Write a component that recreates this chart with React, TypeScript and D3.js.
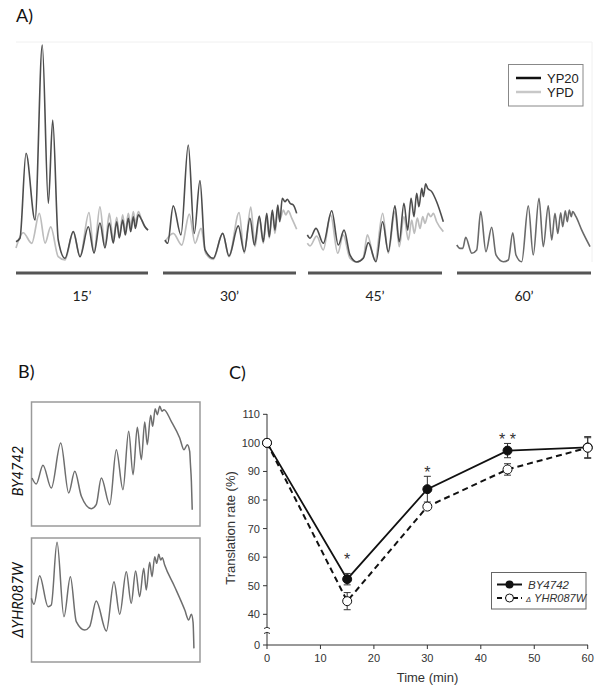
import React from 'react';
import * as d3 from 'd3';

type Pt = [number, number];

// ---------- Panel A: polysome profiles, [gradient position %, A254 a.u.] ----------
const a15YP20: Pt[] = [
  [0, 9.2], [3.0, 10.8], [7.6, 49.4], [14.4, 19.1], [19.9, 98.6], [24.5, 26.7], [27.8, 64.5],
  [32.0, 10.0], [37.1, 1.7], [43.4, 13.8], [48.5, 2.4], [54.8, 16.0], [59.1, 4.1], [63.6, 17.7],
  [67.4, 6.4], [70.7, 17.7], [73.7, 8.6], [76.3, 18.3], [78.3, 10.9], [80.8, 19.1], [82.8, 12.3],
  [85.1, 19.9], [86.9, 13.8], [88.9, 20.6], [90.4, 15.3], [92.7, 21.4], [95.2, 19.1], [97.7, 16.0],
  [100, 14.5],
];
const a15YPD: Pt[] = [
  [0, 6.4], [5.5, 13.3], [11.9, 8.5], [17.7, 22.1], [22.0, 8.6], [26.3, 16.0], [32.0, 2.4],
  [37.1, 0.9], [43.4, 13.8], [48.5, 2.4], [55.3, 22.4], [59.1, 4.1], [63.6, 25.1], [67.4, 7.0],
  [70.7, 22.1], [73.7, 10.0], [76.3, 20.3], [78.3, 11.5], [80.8, 21.4], [82.8, 13.8], [85.1, 22.1],
  [86.9, 16.0], [88.9, 22.9], [90.4, 17.6], [92.7, 22.9], [95.2, 19.1], [97.7, 16.0], [100, 14.5],
];
const a30YP20: Pt[] = [
  [1.5, 10.0], [3.5, 8.5], [7.7, 25.5], [13.5, 12.3], [19.0, 53.2], [23.5, 13.0], [27.8, 37.0],
  [31.6, 5.5], [37.8, 1.7], [44.9, 13.0], [49.6, 2.7], [56.6, 16.4], [61.1, 4.7], [65.4, 19.9],
  [68.7, 7.7], [72.4, 20.9], [75.4, 9.2], [78.0, 22.1], [79.9, 11.5], [82.2, 23.6], [84.2, 14.5],
  [86.3, 25.9], [87.8, 18.3], [89.7, 29.0], [91.7, 27.4], [93.5, 28.5], [95.5, 26.7], [98.0, 25.9],
  [100.5, 22.1],
];
const a30YPD: Pt[] = [
  [1.5, 9.2], [7.7, 13.0], [14.1, 7.7], [19.8, 21.8], [24.1, 8.5], [28.6, 15.3], [32.1, 4.0],
  [37.8, 1.2], [44.9, 13.0], [49.6, 2.4], [57.2, 22.4], [61.1, 4.0], [66.0, 24.9], [69.2, 7.0],
  [72.4, 20.3], [75.4, 8.5], [78.0, 20.9], [79.9, 10.8], [82.2, 22.1], [84.2, 13.0], [86.3, 24.0],
  [87.8, 19.1], [90.5, 23.6], [92.3, 21.4], [94.2, 23.2], [96.8, 19.9], [100.5, 14.9],
];
const a45YP20: Pt[] = [
  [-0.5, 12.3], [1.5, 10.8], [6.0, 15.3], [11.4, 8.5], [17.7, 23.3], [22.6, 7.7], [26.9, 14.5],
  [31.3, 3.2], [36.3, 0], [41.3, 1.7], [45.0, 8.8], [50.7, 0.1], [55.7, 18.3], [59.9, 4.7],
  [64.9, 25.5], [68.1, 9.2], [71.6, 26.7], [74.4, 14.5], [76.9, 29.0], [79.1, 20.6], [81.1, 31.2],
  [82.8, 25.1], [84.9, 33.5], [86.1, 29.7], [87.8, 35.5], [89.3, 33.5], [92.3, 32.0], [96.0, 27.4],
  [101.0, 18.3],
];
const a45YPD: Pt[] = [
  [-0.5, 8.5], [1.5, 7.3], [6.5, 11.8], [11.4, 5.5], [16.9, 21.4], [22.2, 4.0], [26.3, 12.3],
  [31.3, 1.7], [36.3, 0], [41.3, 2.1], [44.3, 12.3], [50.0, 0.6], [55.7, 22.1], [59.9, 4.0],
  [64.9, 22.9], [68.1, 7.0], [71.6, 20.6], [74.9, 10.0], [77.4, 19.1], [79.3, 13.0], [81.6, 19.9],
  [83.6, 15.3], [85.6, 20.6], [87.3, 17.6], [89.8, 22.1], [91.6, 20.6], [93.5, 22.1], [96.0, 18.3],
  [101.0, 13.8],
];
// at 60' both profiles overlap
const a60Both: Pt[] = [
  [-0.2, 7.7], [2.2, 6.2], [4.3, 6.2], [6.5, 11.2], [11.0, 4.0], [14.7, 5.5], [17.7, 22.9],
  [21.6, 4.7], [25.9, 15.8], [29.1, 3.2], [34.6, 0.1], [38.3, 0.9], [41.6, 13.3], [44.0, 3.2],
  [48.3, 0.1], [53.2, 25.5], [56.9, 3.2], [61.2, 29.0], [64.4, 7.0], [68.1, 25.5], [70.7, 10.0],
  [73.1, 22.1], [75.2, 13.0], [77.4, 22.4], [78.9, 16.0], [80.8, 23.3], [82.3, 18.3], [83.8, 23.6],
  [85.3, 20.6], [86.3, 22.9], [88.8, 20.6], [93.1, 14.5], [99.3, 7.0],
];
const panelATimes = ['15’', '30’', '45’', '60’'];
const panelASeries = ['YP20', 'YPD'];

// ---------- Panel B ----------
const bBY4742: Pt[] = [
  [0.6, 38.7], [3.1, 33.9], [7.1, 49.0], [12.0, 30.6], [17.6, 66.9], [22.3, 26.6], [25.9, 44.1],
  [29.8, 24.0], [35.7, 14.0], [38.6, 17.2], [41.6, 38.7], [46.6, 17.2], [50.5, 61.5], [54.4, 29.3],
  [57.8, 76.4], [60.4, 41.4], [62.9, 79.6], [65.3, 53.5], [67.3, 83.9], [68.8, 65.6], [70.8, 89.3],
  [72.0, 80.4], [73.5, 94.6], [74.7, 89.8], [76.2, 96.5], [77.5, 92.5], [78.7, 93.8], [83.0, 84.4],
  [88.0, 71.0], [90.5, 61.5], [92.5, 65.6], [93.9, 60.2], [94.3, 50.8], [94.9, 36.0], [95.4, 13.1],
];
const bDelta: Pt[] = [
  [0.2, 51.4], [1.8, 46.5], [5.1, 69.6], [10.1, 44.6], [12.0, 46.0], [15.4, 96.5], [19.5, 36.5],
  [23.3, 68.8], [26.8, 32.5], [31.8, 25.8], [34.7, 28.5], [38.6, 49.2], [44.6, 25.0], [49.1, 64.8],
  [52.5, 38.5], [56.4, 72.8], [59.3, 47.3], [61.9, 73.4], [64.3, 52.7], [66.7, 75.6], [68.2, 58.1],
  [70.2, 80.4], [71.6, 68.8], [73.2, 84.9], [74.4, 79.6], [75.6, 86.9], [76.7, 82.3], [77.7, 84.1],
  [79.1, 78.2], [85.0, 60.7], [91.0, 41.9], [93.3, 33.9], [94.9, 38.5], [95.9, 32.0], [96.4, 11.0],
];
const panelBLabels = ['BY4742', 'ΔYHR087W'];

// ---------- Panel C ----------
const times = [0, 15, 30, 45, 60];
const byMean = [100, 52.3, 83.8, 97.3, 98.4];
const byErr = [0, 2, 4.5, 2.5, 3.8];
const dMean = [100, 44.6, 77.7, 90.7, 98.3];
const dErr = [0, 3, 0.7, 2, 3.5];
const stars = ['', '*', '*', '* *', ''];
const starLevel = [0, 60, 90.5, 102, 0];
const xTicksC = [0, 10, 20, 30, 40, 50, 60];
const yTicksC = [0, 40, 50, 60, 70, 80, 90, 100, 110];

const ARIAL = '"Liberation Sans", Arial, sans-serif';
const CAL = 'Lato, "Open Sans", sans-serif';

function PanelA() {
  const frames = [
    { x0: 16, x1: 148 },
    { x0: 163, x1: 296 },
    { x0: 308, x1: 442 },
    { x0: 457, x1: 591 },
  ];
  const traces = [
    [a15YPD, a15YP20],
    [a30YPD, a30YP20],
    [a45YPD, a45YP20],
    [a60Both, a60Both],
  ];
  const y = d3.scaleLinear().domain([0, 100]).range([262, 42]);
  return (
    <g>
      <text x={16} y={21.5} fontFamily={CAL} fontSize={18} fill="#111">A)</text>
      <line x1={16} x2={592} y1={42} y2={42} stroke="#f0f0f0" strokeWidth={1} />
      <line x1={592} x2={592} y1={42} y2={262} stroke="#f0f0f0" strokeWidth={1} />
      {frames.map((f, i) => {
        const x = d3.scaleLinear().domain([0, 100]).range([f.x0, f.x1]);
        const line = d3.line<Pt>().x(d => x(d[0])).y(d => y(d[1])).curve(d3.curveMonotoneX);
        const [ypd, yp20] = traces[i];
        const same = ypd === yp20;
        return (
          <g key={i}>
            {same ? (
              <path d={line(yp20) || ''} fill="none" stroke="#6a6a6a" strokeWidth={1.6} />
            ) : (
              <>
                <path d={line(ypd) || ''} fill="none" stroke="#bdbdbd" strokeWidth={1.7} />
                <path d={line(yp20) || ''} fill="none" stroke="#4d4d4d" strokeWidth={1.6} />
              </>
            )}
            <line x1={f.x0} x2={f.x1} y1={273} y2={273} stroke="#555" strokeWidth={3} />
            <text x={(f.x0 + f.x1) / 2} y={301} textAnchor="middle" fontFamily={CAL} fontSize={14} fill="#222">
              {panelATimes[i]}
            </text>
          </g>
        );
      })}
      <rect x={508.5} y={64.5} width={74.5} height={41.5} fill="white" stroke="#888" strokeWidth={1} />
      <line x1={516} x2={541} y1={78} y2={78} stroke="#111" strokeWidth={2.5} />
      <line x1={516} x2={541} y1={92} y2={92} stroke="#c8c8c8" strokeWidth={2.5} />
      <text x={547} y={82.5} fontFamily={ARIAL} fontSize={13} fill="#222">{panelASeries[0]}</text>
      <text x={547} y={96.5} fontFamily={ARIAL} fontSize={13} fill="#222">{panelASeries[1]}</text>
    </g>
  );
}

function PanelB() {
  const boxes = [
    { y0: 402, y1: 526, data: bBY4742 },
    { y0: 538, y1: 662, data: bDelta },
  ];
  const x = d3.scaleLinear().domain([0, 100]).range([31, 200]);
  return (
    <g>
      <text x={18} y={378} fontFamily={CAL} fontSize={18} fill="#111">B)</text>
      {boxes.map((b, i) => {
        const y = d3.scaleLinear().domain([0, 100]).range([b.y1, b.y0]);
        const line = d3.line<Pt>().x(d => x(d[0])).y(d => y(d[1])).curve(d3.curveMonotoneX);
        return (
          <g key={i}>
            <rect x={31.5} y={b.y0} width={168.5} height={b.y1 - b.y0} fill="white" stroke="#9a9a9a" strokeWidth={1.5} />
            <path d={line(b.data) || ''} fill="none" stroke="#6e6e6e" strokeWidth={1.5} />
            <text
              transform={`translate(22.5,${i === 0 ? 471 : 600}) rotate(-90)`}
              textAnchor="middle"
              fontFamily={CAL}
              fontStyle="italic"
              fontSize={14.5}
              fill="#111"
            >
              {panelBLabels[i]}
            </text>
          </g>
        );
      })}
    </g>
  );
}

function PanelC() {
  const x = d3.scaleLinear().domain([0, 60]).range([267, 587.7]);
  const y = d3.scaleLinear().domain([0, 40, 110]).range([645, 614.3, 414.3]);
  const solid = d3.line<number>().x((_, i) => x(times[i])).y(d => y(d));
  const ax = 267;
  return (
    <g>
      <text x={229} y={379} fontFamily={CAL} fontSize={18} fill="#111">C)</text>
      {/* y axis with break */}
      <line x1={ax} x2={ax} y1={414} y2={627} stroke="#333" strokeWidth={1} />
      <line x1={ax} x2={ax} y1={633} y2={645} stroke="#333" strokeWidth={1} />
      <path d={`M${ax - 3},${628.5} Q${ax},${626} ${ax + 3},${628.5}`} fill="none" stroke="#333" strokeWidth={1} />
      <path d={`M${ax - 3},${633.5} Q${ax},${631} ${ax + 3},${633.5}`} fill="none" stroke="#333" strokeWidth={1} />
      <line x1={ax} x2={588} y1={645} y2={645} stroke="#333" strokeWidth={1} />
      {yTicksC.map(t => (
        <g key={t}>
          <line x1={ax - 4} x2={ax} y1={y(t)} y2={y(t)} stroke="#333" strokeWidth={1} />
          <text x={ax - 7} y={y(t) + 4} textAnchor="end" fontFamily={ARIAL} fontSize={11} fill="#333">{t}</text>
        </g>
      ))}
      {xTicksC.map(t => (
        <g key={t}>
          <line x1={x(t)} x2={x(t)} y1={645} y2={649} stroke="#333" strokeWidth={1} />
          <text x={x(t)} y={662} textAnchor="middle" fontFamily={ARIAL} fontSize={11} fill="#333">{t}</text>
        </g>
      ))}
      <text x={427.5} y={682} textAnchor="middle" fontFamily={ARIAL} fontSize={13} fill="#333">Time (min)</text>
      <text transform="translate(234.5,528) rotate(-90)" textAnchor="middle" fontFamily={ARIAL} fontSize={13} fill="#333">
        Translation rate (%)
      </text>
      {/* lines */}
      <path d={solid(dMean) || ''} fill="none" stroke="#111" strokeWidth={2} strokeDasharray="6,4" />
      <path d={solid(byMean) || ''} fill="none" stroke="#111" strokeWidth={1.8} />
      {/* error bars */}
      {[{ m: byMean, e: byErr }, { m: dMean, e: dErr }].map((s, si) =>
        s.m.map((v, i) =>
          s.e[i] > 0 ? (
            <g key={`${si}-${i}`} stroke="#333" strokeWidth={1}>
              <line x1={x(times[i])} x2={x(times[i])} y1={y(v - s.e[i])} y2={y(v + s.e[i])} />
              <line x1={x(times[i]) - 3.5} x2={x(times[i]) + 3.5} y1={y(v - s.e[i])} y2={y(v - s.e[i])} />
              <line x1={x(times[i]) - 3.5} x2={x(times[i]) + 3.5} y1={y(v + s.e[i])} y2={y(v + s.e[i])} />
            </g>
          ) : null
        )
      )}
      {byMean.map((v, i) => (
        <circle key={`b${i}`} cx={x(times[i])} cy={y(v)} r={4.5} fill="#111" stroke="#111" strokeWidth={1} />
      ))}
      {dMean.map((v, i) => (
        <circle key={`d${i}`} cx={x(times[i])} cy={y(v)} r={4.5} fill="white" stroke="#111" strokeWidth={1} />
      ))}
      {stars.map((s, i) =>
        s ? (
          <text key={`s${i}`} x={x(times[i])} y={y(starLevel[i]) + 8} textAnchor="middle" fontFamily={ARIAL} fontSize={16} fill="#333">
            {s}
          </text>
        ) : null
      )}
      {/* legend */}
      <rect x={491.5} y={572.5} width={94.5} height={36.5} fill="white" stroke="#666" strokeWidth={1} />
      <line x1={497} x2={522} y1={584.5} y2={584.5} stroke="#111" strokeWidth={2} />
      <circle cx={509.5} cy={584.5} r={4} fill="#111" />
      <text x={528} y={588.5} fontFamily={ARIAL} fontStyle="italic" fontSize={11.5} fill="#333">BY4742</text>
      <line x1={497} x2={522} y1={598} y2={598} stroke="#111" strokeWidth={2} strokeDasharray="5,3" />
      <circle cx={509.5} cy={598} r={4} fill="white" stroke="#111" strokeWidth={1} />
      <text x={526} y={602} fontFamily={ARIAL} fontStyle="italic" fontSize={11} fill="#333">
        <tspan fontSize={7.5}>Δ</tspan> YHR087W
      </text>
    </g>
  );
}

export default function App() {
  return (
    <svg
      width={600}
      height={689}
      viewBox="0 0 600 689"
      style={{ position: 'absolute', left: 0, top: 0, display: 'block', background: 'white' }}
    >
      <rect x={0} y={0} width={600} height={689} fill="white" />
      <PanelA />
      <PanelB />
      <PanelC />
    </svg>
  );
}
